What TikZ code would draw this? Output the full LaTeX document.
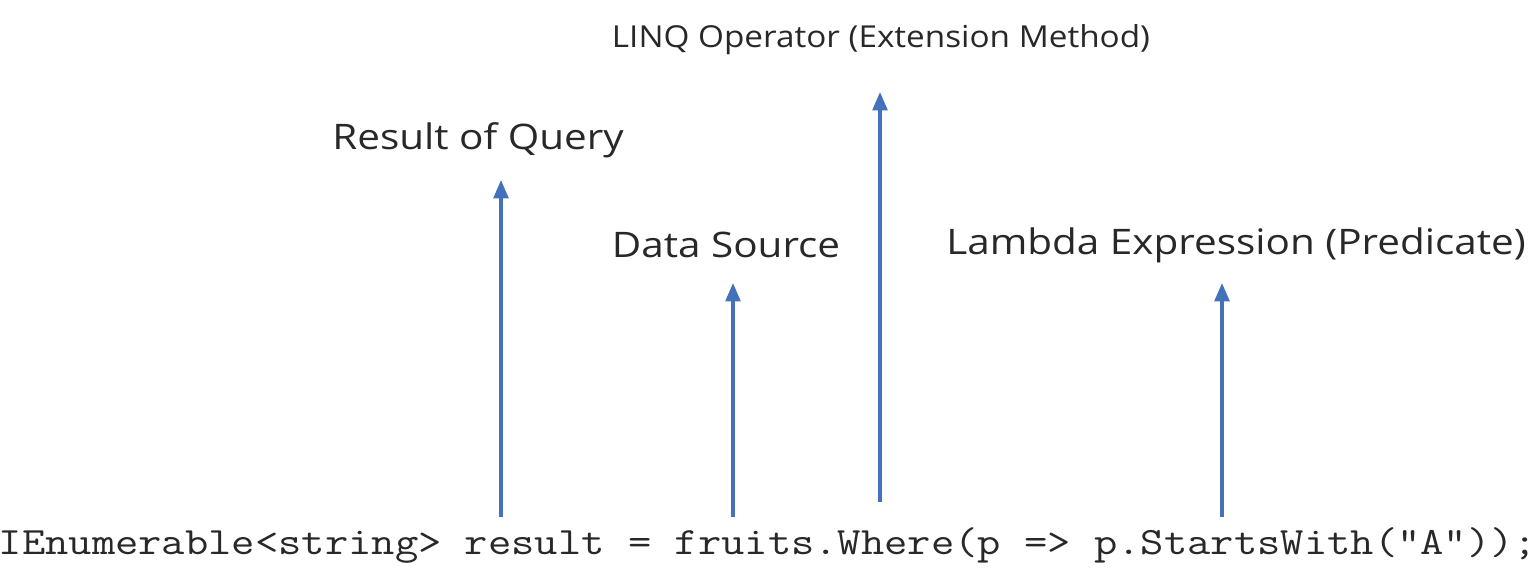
\documentclass[tikz,border=0pt]{standalone}
\usepackage{fontspec}
\setmainfont{Open Sans}
\usetikzlibrary{arrows.meta, positioning}
\definecolor{arrowblue}{RGB}{68, 114, 186}
\definecolor{labelgray}{RGB}{40, 40, 40}

\begin{document}
\begin{tikzpicture}[x=0.01cm, y=-0.01cm,
        lbl/.style={text=labelgray, font=\fontsize{10}{12}\selectfont, inner sep=0pt,
            xscale=1.15, transform shape},
        pointer/.style={-{Triangle[width=4.2pt, length=5.2pt]}, line width=0.9pt, arrowblue}]
        \useasboundingbox (0,0) rectangle (1537,573);
        % labels
        \node[lbl, xscale=0.957, font=\fontsize{8.6}{10}\selectfont] (linq) at (881,40) {LINQ Operator (Extension Method)};
        \node[lbl] (result) at (478,140) {Result of Query};
        \node[lbl] (source) at (726,245) {Data Source};
        \node[lbl] (lambda) at (1236,245) {Lambda Expression (Predicate)};
        % code line
        \node[inner sep=0pt, text=labelgray, xscale=1.17, transform shape,
            font=\ttfamily\fontsize{11}{13}\selectfont] (code) at (768,545)
            {IEnumerable<string> result = fruits.Where(p => p.StartsWith("A"));};
        % arrow ends
        \coordinate (resultlow) at (501,517);
        \coordinate (resulttop) at (501,180);
        \coordinate (sourcelow) at (733,517);
        \coordinate (sourcetop) at (733,283);
        \coordinate (linqlow) at (880,502);
        \coordinate (linqtop) at (880,92);
        \coordinate (lambdalow) at (1222,517);
        \coordinate (lambdatop) at (1222,283);
        \draw[pointer] (resultlow) -- (resulttop);
        \draw[pointer] (sourcelow) -- (sourcetop);
        \draw[pointer] (linqlow) -- (linqtop);
        \draw[pointer] (lambdalow) -- (lambdatop);
    \end{tikzpicture}
\end{document}
